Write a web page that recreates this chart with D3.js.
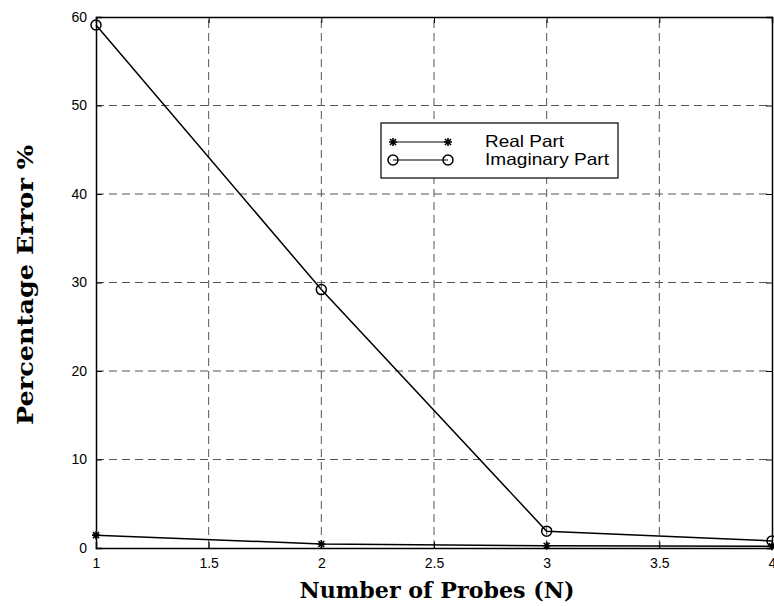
<!DOCTYPE html>
<html lang="en">
<head>
<meta charset="utf-8" />
<script src="https://d3js.org/d3.v7.min.js"></script>
<style>
body { margin: 0; background: #fff; }
.tick text { font-family: "Liberation Sans", Arial, sans-serif; font-size: 14px; }
.title { font-family: "DejaVu Serif", serif; font-weight: bold; font-size: 23px; }
</style>
</head>
<body>
<script>
// data
var probes = [1, 2, 3, 4];
var realPart = [1.45, 0.45, 0.25, 0.2];
var imagPart = [59.1, 29.2, 1.9, 0.8];
var xTicks = [1, 1.5, 2, 2.5, 3, 3.5, 4];
var yTicks = [0, 10, 20, 30, 40, 50, 60];
var seriesNames = ["Real Part", "Imaginary Part"];

var W = 774, H = 606;
var m = {left: 96, right: 2, top: 17, bottom: 58};

var svg = d3.select("body").append("svg")
  .attr("width", W).attr("height", H);

var x = d3.scaleLinear().domain([1, 4]).range([m.left, W - m.right]);
var y = d3.scaleLinear().domain([0, 60]).range([H - m.bottom, m.top]);

// grid
svg.append("g").selectAll("line")
  .data(xTicks.slice(1, -1)).enter().append("line")
  .attr("x1", d => x(d)).attr("x2", d => x(d))
  .attr("y1", y(0)).attr("y2", y(60))
  .attr("stroke", "#555").attr("stroke-width", 1)
  .attr("stroke-dasharray", "8,5");
svg.append("g").selectAll("line")
  .data(yTicks.slice(1, -1)).enter().append("line")
  .attr("x1", x(1)).attr("x2", x(4))
  .attr("y1", d => y(d)).attr("y2", d => y(d))
  .attr("stroke", "#555").attr("stroke-width", 1)
  .attr("stroke-dasharray", "8,5");

// axes (ticks inward)
var xAxis = svg.append("g").attr("transform", "translate(0," + y(0) + ")")
  .call(d3.axisBottom(x).tickValues(xTicks).tickSize(-6).tickPadding(10).tickFormat(d3.format("")));
var xTop = svg.append("g").attr("transform", "translate(0," + y(60) + ")")
  .call(d3.axisTop(x).tickValues(xTicks).tickSize(-6).tickFormat(""));
var yAxis = svg.append("g").attr("transform", "translate(" + x(1) + ",0)")
  .call(d3.axisLeft(y).tickValues(yTicks).tickSize(-6).tickPadding(9));
var yRight = svg.append("g").attr("transform", "translate(" + x(4) + ",0)")
  .call(d3.axisRight(y).tickValues(yTicks).tickSize(-6).tickFormat(""));
[xAxis, xTop, yAxis, yRight].forEach(function(g) {
  g.select(".domain").attr("stroke", "#000").attr("stroke-width", 1.5);
  g.selectAll(".tick line").attr("stroke", "#000");
  g.selectAll(".tick text").attr("fill", "#000");
});

// lines
var line = d3.line().x((d, i) => x(probes[i])).y(d => y(d));
svg.append("path").datum(imagPart).attr("d", line)
  .attr("fill", "none").attr("stroke", "#000").attr("stroke-width", 1.5);
svg.append("path").datum(realPart).attr("d", line)
  .attr("fill", "none").attr("stroke", "#000").attr("stroke-width", 1.5);

function star(g, cx, cy) {
  var s = 4;
  g.append("path")
    .attr("d", "M" + (cx - s) + "," + cy + "H" + (cx + s) +
      "M" + cx + "," + (cy - s) + "V" + (cy + s) +
      "M" + (cx - s * 0.75) + "," + (cy - s * 0.75) + "L" + (cx + s * 0.75) + "," + (cy + s * 0.75) +
      "M" + (cx - s * 0.75) + "," + (cy + s * 0.75) + "L" + (cx + s * 0.75) + "," + (cy - s * 0.75))
    .attr("stroke", "#000").attr("stroke-width", 1.6);
}
function circ(g, cx, cy) {
  g.append("circle").attr("cx", cx).attr("cy", cy).attr("r", 5)
    .attr("fill", "none").attr("stroke", "#000").attr("stroke-width", 1.5);
}
var marks = svg.append("g");
realPart.forEach(function(d, i) { star(marks, x(probes[i]), y(d)); });
imagPart.forEach(function(d, i) { circ(marks, x(probes[i]), y(d)); });

// legend
var lg = svg.append("g");
lg.append("rect").attr("x", 381).attr("y", 123).attr("width", 237).attr("height", 55)
  .attr("fill", "#fff").attr("stroke", "#000").attr("stroke-width", 1.2);
seriesNames.forEach(function(name, i) {
  var ly = 142 + i * 18;
  lg.append("line").attr("x1", 393).attr("x2", 448).attr("y1", ly).attr("y2", ly)
    .attr("stroke", "#000").attr("stroke-width", 1.2);
  if (i === 0) { star(lg, 393, ly); star(lg, 448, ly); }
  else { circ(lg, 393, ly); circ(lg, 448, ly); }
  lg.append("text").attr("x", 485).attr("y", ly + 5)
    .style("font-family", "Liberation Sans, Arial, sans-serif").style("font-size", "16.5px")
    .attr("textLength", i === 0 ? 79 : 124).attr("lengthAdjust", "spacingAndGlyphs")
    .text(name);
});

// titles
svg.append("text").attr("class", "title")
  .attr("x", 437).attr("y", 598).attr("text-anchor", "middle")
  .attr("textLength", 275).attr("lengthAdjust", "spacingAndGlyphs")
  .text("Number of Probes (N)");
svg.append("text").attr("class", "title")
  .attr("transform", "translate(33,285) rotate(-90)").attr("text-anchor", "middle")
  .attr("textLength", 280).attr("lengthAdjust", "spacingAndGlyphs")
  .text("Percentage Error %");
</script>
</body>
</html>
